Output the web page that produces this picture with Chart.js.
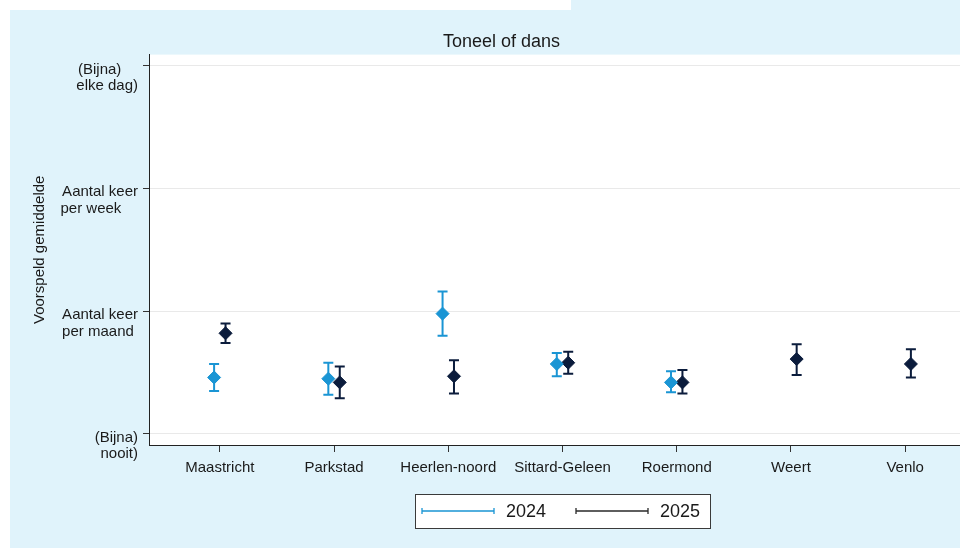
<!DOCTYPE html>
<html>
<head>
<meta charset="utf-8">
<script src="https://cdn.jsdelivr.net/npm/chart.js"></script>
<style>
  html, body { margin: 0; padding: 0; background: #ffffff; overflow: hidden; }
  #wrap { position: absolute; left: 0; top: 0; width: 960px; height: 548px; overflow: hidden; }
  canvas { display: block; }
</style>
</head>
<body>
<div id="wrap">
  <canvas id="chart" width="1000" height="548"></canvas>
</div>
<script>
// regio's
const categories = ['Maastricht', 'Parkstad', 'Heerlen-noord', 'Sittard-Geleen', 'Roermond', 'Weert', 'Venlo'];

// 2024: schatting + betrouwbaarheidsinterval
const est2024 = [1.46, 1.45, 1.98, 1.57, 1.42, null, null];
const lo2024  = [1.35, 1.32, 1.80, 1.47, 1.34, null, null];
const hi2024  = [1.57, 1.58, 2.16, 1.66, 1.51, null, null];

// 2025
const est2025 = [1.82, 1.42, 1.47, 1.58, 1.42, 1.61, 1.57];
const lo2025  = [1.74, 1.29, 1.33, 1.49, 1.33, 1.48, 1.46];
const hi2025  = [1.90, 1.55, 1.60, 1.67, 1.52, 1.73, 1.69];

// y-as labels
const yTickValues = [1, 2, 3, 4];
const yTickLabels = [
  ['(Bijna)', 'nooit)'],
  ['Aantal keer', 'per maand '],
  ['Aantal keer', 'per week    '],
  ['(Bijna)    ', 'elke dag)']
];

const seriesLabels = ['2024', '2025'];
const colors = ['#1a95d4', '#0b1c3c'];
const legendLineColors = ['#1a95d4', '#2a2a2a'];
const dodge = 0.05;

// geen waarde = geen punt
function toPoints(est, lo, hi, shift) {
  return est
    .map((v, i) => v == null ? null : { x: i + 1 + shift, y: v, lo: lo[i], hi: hi[i] })
    .filter(p => p);
}

const FONT = '"Liberation Sans", Arial, sans-serif';

// achtergrond + witte plotregio
const bgPlugin = {
  id: 'bg',
  beforeDraw(chart) {
    const ctx = chart.ctx;
    const a = chart.chartArea;
    ctx.save();
    ctx.fillStyle = '#e0f3fb';
    ctx.fillRect(0, 0, chart.width, chart.height);
    ctx.fillStyle = '#ffffff';
    ctx.fillRect(0, 0, 571, 10);
    ctx.fillRect(0, 0, 10, chart.height);
    ctx.fillRect(a.left, a.top, a.right - a.left, a.bottom - a.top);
    ctx.restore();
  }
};

// foutbalken
const errorBars = {
  id: 'errorBars',
  beforeDatasetsDraw(chart) {
    const ctx = chart.ctx;
    const xs = chart.scales.x, ys = chart.scales.y;
    ctx.save();
    chart.data.datasets.forEach(ds => {
      ctx.strokeStyle = ds.borderColor;
      ctx.lineWidth = 2;
      ds.data.forEach(p => {
        const x = xs.getPixelForValue(p.x);
        const y1 = ys.getPixelForValue(p.lo);
        const y2 = ys.getPixelForValue(p.hi);
        ctx.beginPath();
        ctx.moveTo(x, y1); ctx.lineTo(x, y2);
        ctx.moveTo(x - 5, y1); ctx.lineTo(x + 5, y1);
        ctx.moveTo(x - 5, y2); ctx.lineTo(x + 5, y2);
        ctx.stroke();
      });
    });
    ctx.restore();
  }
};

// legenda in kader (zoals Stata)
const boxLegend = {
  id: 'boxLegend',
  afterDraw(chart) {
    const ctx = chart.ctx;
    const bx = 415, by = 494, bw = 295, bh = 34;
    const cy = by + bh / 2;
    ctx.save();
    ctx.fillStyle = '#ffffff';
    ctx.fillRect(bx, by, bw, bh);
    ctx.strokeStyle = '#3a3a3a';
    ctx.lineWidth = 1;
    ctx.strokeRect(bx + 0.5, by + 0.5, bw, bh);
    ctx.font = '18px ' + FONT;
    ctx.textBaseline = 'middle';
    let x = bx + 7;
    chart.data.datasets.forEach((ds, i) => {
      ctx.strokeStyle = legendLineColors[i];
      ctx.lineWidth = 1.3;
      ctx.beginPath();
      ctx.moveTo(x, cy); ctx.lineTo(x + 72, cy);
      ctx.moveTo(x, cy - 3); ctx.lineTo(x, cy + 3);
      ctx.moveTo(x + 72, cy - 3); ctx.lineTo(x + 72, cy + 3);
      ctx.stroke();
      ctx.fillStyle = '#1a1a1a';
      ctx.fillText(ds.label, x + 84, cy + 1);
      x += 154;
    });
    ctx.restore();
  }
};

const ctx = document.getElementById('chart').getContext('2d');
new Chart(ctx, {
  type: 'scatter',
  data: {
    datasets: [
      {
        label: seriesLabels[0],
        data: toPoints(est2024, lo2024, hi2024, -dodge),
        backgroundColor: colors[0],
        borderColor: colors[0],
        pointStyle: 'rectRot',
        pointRadius: 6.5,
        borderWidth: 1
      },
      {
        label: seriesLabels[1],
        data: toPoints(est2025, lo2025, hi2025, dodge),
        backgroundColor: colors[1],
        borderColor: colors[1],
        pointStyle: 'rectRot',
        pointRadius: 6.5,
        borderWidth: 1
      }
    ]
  },
  options: {
    responsive: false,
    animation: false,
    layout: { padding: { left: 27, right: 24, top: 0, bottom: 0 } },
    plugins: {
      legend: { display: false },
      tooltip: { enabled: false },
      title: {
        display: true,
        text: 'Toneel of dans',
        color: '#1a1a1a',
        font: { family: FONT, size: 18, weight: 'normal', lineHeight: 1.2 },
        padding: { top: 31, bottom: 2 }
      }
    },
    scales: {
      x: {
        type: 'linear',
        min: 0.38,
        max: 7.62,
        afterBuildTicks: s => { s.ticks = categories.map((c, i) => ({ value: i + 1 })); },
        afterFit: s => { s.height = 103; },
        grid: { drawOnChartArea: false, tickLength: 7, tickColor: '#333', tickWidth: 1 },
        border: { color: '#222', width: 1 },
        ticks: {
          autoSkip: false,
          maxRotation: 0,
          padding: 7,
          color: '#1a1a1a',
          font: { family: FONT, size: 15 },
          callback: v => categories[Math.round(v) - 1]
        }
      },
      y: {
        min: 0.91,
        max: 4.09,
        afterBuildTicks: s => { s.ticks = yTickValues.map(v => ({ value: v })); },
        afterFit: s => { s.width = 122; },
        grid: { color: '#e9e9e9', lineWidth: 1, tickLength: 6, tickColor: '#333' },
        border: { color: '#222', width: 1 },
        title: {
          display: true,
          text: 'Voorspeld gemiddelde',
          color: '#1a1a1a',
          font: { family: FONT, size: 15 },
          padding: { top: 4, bottom: 4 }
        },
        ticks: {
          padding: 5,
          labelOffset: 12,
          color: '#1a1a1a',
          font: { family: FONT, size: 15, lineHeight: 1.1 },
          callback: v => yTickLabels[yTickValues.indexOf(v)]
        }
      }
    }
  },
  plugins: [bgPlugin, errorBars, boxLegend]
});
</script>
</body>
</html>
